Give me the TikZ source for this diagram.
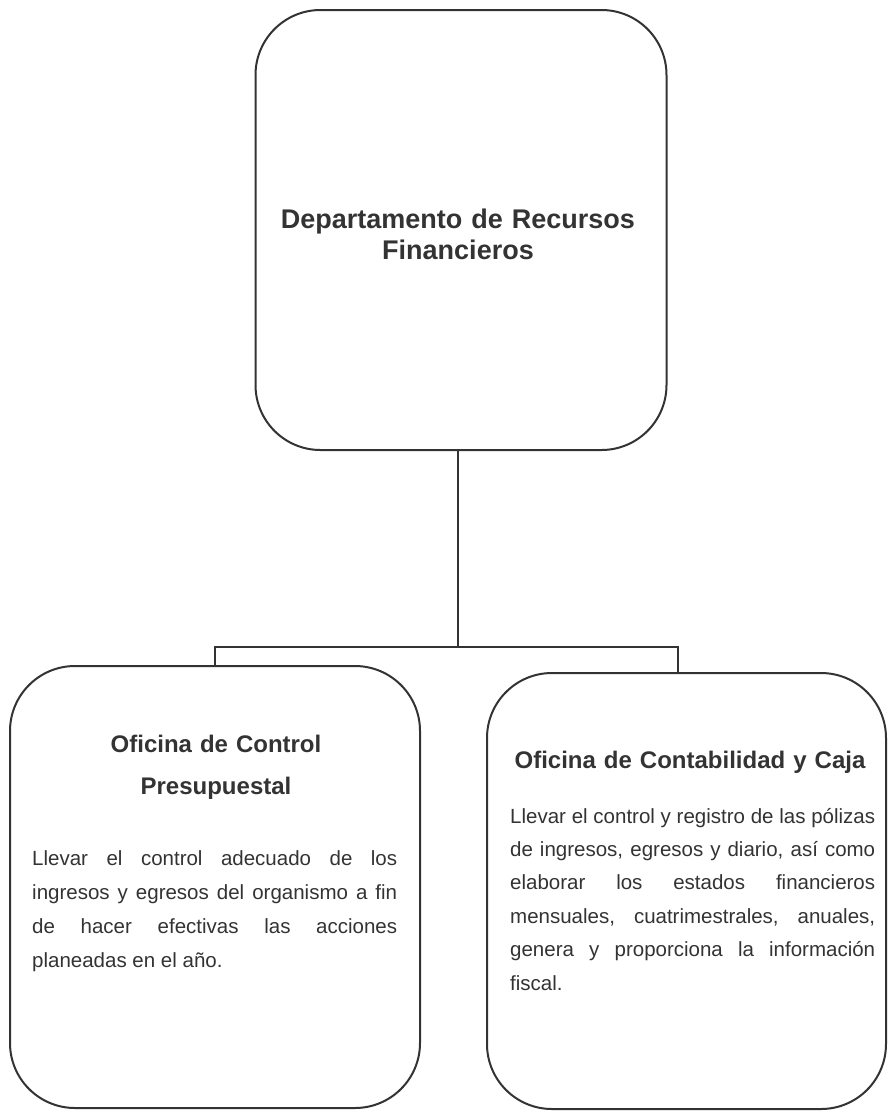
\documentclass[tikz,border=0pt]{standalone}
\usepackage{fontspec}
\setmainfont{Liberation Sans}
\definecolor{ink}{HTML}{333333}
\begin{document}
\begin{tikzpicture}[x=1pt,y=-1pt,
  box/.style={draw=ink, line width=2pt, rounded corners=65pt, inner sep=0pt},
  wire/.style={draw=ink, line width=2pt},
  title/.style={text=ink, inner sep=0pt, anchor=base, align=center, font=\bfseries\fontsize{27}{31}\selectfont},
  head/.style={text=ink, inner sep=0pt, anchor=base, align=center, font=\bfseries\fontsize{24}{42}\selectfont},
  body/.style={text=ink, inner sep=0pt, anchor=base west, text width=365pt, align=justify}]
\useasboundingbox (0,0) rectangle (888,1112);
% boxes
\node[box, minimum width=411pt, minimum height=440pt] (top) at (461,230) {};
\node[box, minimum width=410pt, minimum height=442pt] (left) at (215,887) {};
\node[box, minimum width=399pt, minimum height=436pt] (right) at (686.5,891) {};
% texts
\node[title, text width=400pt] (ttl) at (458,228) {Departamento de Recursos\\Financieros};
\node[head, text width=320pt] (lh) at (216,752) {Oficina de Control\\Presupuestal};
\node[head, text width=390pt] (rh) at (690,768) {Oficina de Contabilidad y Caja};
\node[body, font=\fontsize{20.5}{34}\selectfont] (lb) at (32,865) {Llevar el control adecuado de los\linebreak ingresos y egresos del organismo a fin\linebreak de hacer efectivas las acciones\linebreak planeadas en el año.};
\node[body, font=\fontsize{20.5}{33.4}\selectfont] (rb) at (510,823) {Llevar el control y registro de las pólizas\linebreak de ingresos, egresos y diario, así como\linebreak elaborar los estados financieros\linebreak mensuales, cuatrimestrales, anuales,\linebreak genera y proporciona la información\linebreak fiscal.};
% connectors
\coordinate (bus) at (458,647);
\draw[wire] ([xshift=-3pt]top.south) -- (bus);
\draw[wire] (left.north) |- (bus) -| ([xshift=-8.5pt]right.north);
\end{tikzpicture}
\end{document}
